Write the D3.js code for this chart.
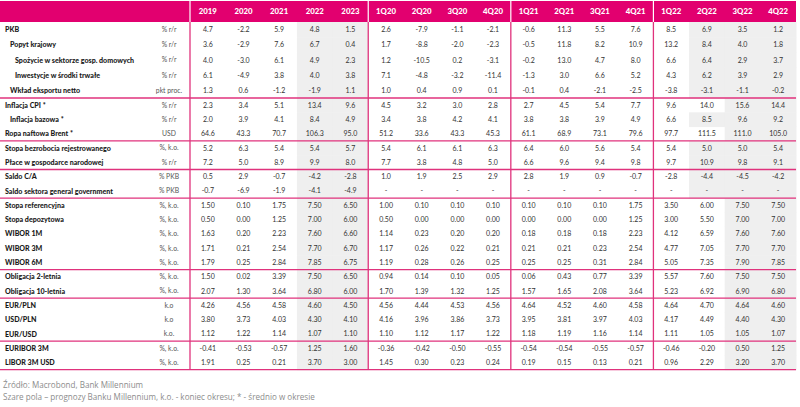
<!DOCTYPE html>
<html><head><meta charset="utf-8">
<script src="https://cdn.jsdelivr.net/npm/d3@7/dist/d3.min.js"></script>
<style>
html,body{margin:0;padding:0;background:#fff;}
svg{display:block;}
</style></head>
<body><svg id="c" width="800" height="407"></svg>
<script>
// ---------- DATA ----------
const columns = ["2019","2020","2021","2022","2023","1Q20","2Q20","3Q20","4Q20","1Q21","2Q21","3Q21","4Q21","1Q22","2Q22","3Q22","4Q22"];
const labels = ["PKB","Popyt krajowy","Spożycie w sektorze gosp. domowych","Inwestycje w środki trwałe","Wkład eksportu netto",
 "Inflacja CPI *","Inflacja bazowa *","Ropa naftowa Brent *",
 "Stopa bezrobocia rejestrowanego","Płace w gospodarce narodowej",
 "Saldo C/A","Saldo sektora general government",
 "Stopa referencyjna","Stopa depozytowa","WIBOR 1M","WIBOR 3M","WIBOR 6M",
 "Obligacja 2-letnia","Obligacja 10-letnia",
 "EUR/PLN","USD/PLN","EUR/USD",
 "EURIBOR 3M","LIBOR 3M USD"];
const units = ["% r/r","% r/r","% r/r","% r/r","pkt proc.","% r/r","% r/r","USD","%, k.o.","% r/r","% PKB","% PKB",
 "%, k.o.","%, k.o.","%, k.o.","%, k.o.","%, k.o.","%, k.o.","%, k.o.","k.o","k.o","k.o.","%, k.o.","%, k.o."];
const indent = [0,1,2,2,1,0,1,0,0,0,0,0,0,0,0,0,0,0,0,0,0,0,0,0];
const groupSizes = [5,3,2,2,5,2,3,2];
const decimals = [1,1,1,1,1,1,1,1,1,1,1,1,2,2,2,2,2,2,2,2,2,2,2,2];
// first quarterly column shaded as forecast (index into columns)
const forecastFrom = [14,14,14,14,14,15,14,15,14,14,14,14,15,15,15,15,15,15,15,15,15,15,15,15];

const pkb        = [4.7,-2.2,5.9,4.8,1.5,2.6,-7.9,-1.1,-2.1,-0.6,11.3,5.5,7.6,8.5,6.9,3.5,1.2];
const popyt      = [3.6,-2.9,7.6,6.7,0.4,1.7,-8.8,-2.0,-2.3,-0.5,11.8,8.2,10.9,13.2,8.4,4.0,1.8];
const spozycie   = [4.0,-3.0,6.1,4.9,2.3,1.2,-10.5,0.2,-3.1,-0.2,13.0,4.7,8.0,6.6,6.4,2.9,3.7];
const inwestycje = [6.1,-4.9,3.8,4.0,3.8,7.1,-4.8,-3.2,-11.4,-1.3,3.0,6.6,5.2,4.3,6.2,3.9,2.9];
const eksport    = [1.3,0.6,-1.2,-1.9,1.1,1.0,0.4,0.9,0.1,-0.1,0.4,-2.1,-2.5,-3.8,-3.1,-1.1,-0.2];
const cpi        = [2.3,3.4,5.1,13.4,9.6,4.5,3.2,3.0,2.8,2.7,4.5,5.4,7.7,9.6,14.0,15.6,14.4];
const bazowa     = [2.0,3.9,4.1,8.4,4.9,3.4,3.8,4.2,4.1,3.8,3.8,3.9,4.9,6.6,8.5,9.6,9.2];
const brent      = [64.6,43.3,70.7,106.3,95.0,51.2,33.6,43.3,45.3,61.1,68.9,73.1,79.6,97.7,111.5,111.0,105.0];
const bezrobocie = [5.2,6.3,5.4,5.4,5.7,5.4,6.1,6.1,6.3,6.4,6.0,5.6,5.4,5.4,5.0,5.0,5.4];
const place      = [7.2,5.0,8.9,9.9,8.0,7.7,3.8,4.8,5.0,6.6,9.6,9.4,9.8,9.7,10.9,9.8,9.1];
const saldoCA    = [0.5,2.9,-0.7,-4.2,-2.8,1.0,1.9,2.5,2.9,2.8,1.9,0.9,-0.7,-2.8,-4.4,-4.5,-4.2];
const saldoGG    = [-0.7,-6.9,-1.9,-4.1,-4.9,null,null,null,null,null,null,null,null,null,null,null,null];
const stopaRef   = [1.50,0.10,1.75,7.50,6.50,1.00,0.10,0.10,0.10,0.10,0.10,0.10,1.75,3.50,6.00,7.50,7.50];
const stopaDep   = [0.50,0.00,1.25,7.00,6.00,0.50,0.00,0.00,0.00,0.00,0.00,0.00,1.25,3.00,5.50,7.00,7.00];
const wibor1m    = [1.63,0.20,2.23,7.60,6.60,1.14,0.23,0.20,0.20,0.18,0.18,0.18,2.23,4.12,6.59,7.60,7.60];
const wibor3m    = [1.71,0.21,2.54,7.70,6.70,1.17,0.26,0.22,0.21,0.21,0.21,0.23,2.54,4.77,7.05,7.70,7.70];
const wibor6m    = [1.79,0.25,2.84,7.85,6.75,1.19,0.28,0.26,0.25,0.25,0.25,0.31,2.84,5.05,7.35,7.90,7.85];
const obl2       = [1.50,0.02,3.39,7.50,6.50,0.94,0.14,0.10,0.05,0.06,0.43,0.77,3.39,5.57,7.60,7.50,7.50];
const obl10      = [2.07,1.30,3.64,6.80,6.00,1.70,1.39,1.32,1.25,1.57,1.65,2.08,3.64,5.23,6.92,6.90,6.80];
const eurpln     = [4.26,4.56,4.58,4.60,4.50,4.56,4.44,4.53,4.56,4.64,4.52,4.60,4.58,4.64,4.70,4.64,4.60];
const usdpln     = [3.80,3.73,4.03,4.30,4.10,4.16,3.96,3.86,3.73,3.95,3.81,3.97,4.03,4.17,4.49,4.40,4.30];
const eurusd     = [1.12,1.22,1.14,1.07,1.10,1.10,1.12,1.17,1.22,1.18,1.19,1.16,1.14,1.11,1.05,1.05,1.07];
const euribor    = [-0.41,-0.53,-0.57,1.25,1.60,-0.36,-0.42,-0.50,-0.55,-0.54,-0.54,-0.55,-0.57,-0.46,-0.20,0.50,1.25];
const libor      = [1.91,0.25,0.21,3.70,3.00,1.45,0.30,0.23,0.24,0.19,0.15,0.13,0.21,0.96,2.29,3.20,3.70];

const series = [pkb,popyt,spozycie,inwestycje,eksport,cpi,bazowa,brent,bezrobocie,place,saldoCA,saldoGG,
 stopaRef,stopaDep,wibor1m,wibor3m,wibor6m,obl2,obl10,eurpln,usdpln,eurusd,euribor,libor];
const footer = ["Źródło: Macrobond, Bank Millennium",
 "Szare pola – prognozy Banku Millennium, k.o. - koniec okresu; * - średnio w okresie"];

// ---------- LAYOUT ----------
const pink = "#e2006f", linePink = "#e0327c", grey = "#efefef";
const fontLbl = "Lato, 'Open Sans', sans-serif";
const headTop = 1, headBot = 22;
const x = d3.scaleBand().domain(columns).range([190, 796]);
const colGroups = [0,5,9,13];

// row layout
const rowY = [], rowTop = [], rowBot = [], sepY = [];
let yy = headBot, ri = 0;
groupSizes.forEach((n, gi) => {
  const h = gi === 0 ? 15.2 : 14.3;
  for (let k = 0; k < n; k++) {
    rowTop[ri] = yy; rowY[ri] = yy + h/2; yy += h; rowBot[ri] = yy; ri++;
  }
  sepY.push(yy);
});
const tableBot = yy;

const svg = d3.select("#c");
svg.append("rect").attr("width", 800).attr("height", 407).attr("fill", "#fff");

// forecast shading
series.forEach((vals, r) => {
  columns.forEach((c, ci) => {
    const shaded = (ci === 3 || ci === 4) || ci >= forecastFrom[r];
    if (!shaded) return;
    svg.append("rect")
      .attr("x", x(c)).attr("y", rowTop[r]).attr("width", x.bandwidth() + 0.5)
      .attr("height", rowBot[r] - rowTop[r] + 0.5).attr("fill", grey);
  });
});

// header band
svg.append("rect").attr("x", 0).attr("y", headTop).attr("width", 796).attr("height", headBot - headTop).attr("fill", pink);
colGroups.forEach(ci => {
  svg.append("line").attr("x1", x(columns[ci])).attr("x2", x(columns[ci]))
    .attr("y1", headTop).attr("y2", headBot).attr("stroke", "#fff").attr("stroke-width", 1.2);
});
svg.selectAll("text.hd").data(columns).enter().append("text")
  .attr("x", c => x(c) + x.bandwidth()/2).attr("y", (headTop+headBot)/2).attr("dy", "0.36em")
  .attr("text-anchor", "middle").attr("fill", "#fff")
  .style("font-family", fontLbl).style("font-weight", "900").style("font-size", "7.8px")
  .text(c => c);

// labels and units
labels.forEach((l, r) => {
  svg.append("text").attr("x", 5 + indent[r]*5).attr("y", rowY[r]).attr("dy", "0.36em")
    .attr("fill", "#1a1a1a").style("font-family", fontLbl).style("font-weight", "900").style("font-size", "7.1px")
    .text(l);
  svg.append("text").attr("x", 169).attr("y", rowY[r]).attr("dy", "0.36em").attr("text-anchor", "middle")
    .attr("fill", "#555").style("font-family", fontLbl).style("font-size", "6.8px")
    .text(units[r]);
});

// values
series.forEach((vals, r) => {
  svg.selectAll(null).data(vals).enter().append("text")
    .attr("x", (v, i) => x(columns[i]) + x.bandwidth()/2).attr("y", rowY[r]).attr("dy", "0.36em")
    .attr("text-anchor", "middle").attr("fill", "#333")
    .style("font-family", fontLbl).style("font-size", "7px")
    .text(v => v === null ? "-" : v.toFixed(decimals[r]));
});

// horizontal separators
sepY.forEach(y => {
  svg.append("line").attr("x1", 0).attr("x2", 796).attr("y1", y).attr("y2", y)
    .attr("stroke", linePink).attr("stroke-width", 1.3);
});
// vertical separators
colGroups.forEach(ci => {
  svg.append("line").attr("x1", x(columns[ci])).attr("x2", x(columns[ci]))
    .attr("y1", headBot).attr("y2", tableBot).attr("stroke", linePink).attr("stroke-width", 1.3);
});

// footer
footer.forEach((t, i) => {
  svg.append("text").attr("x", 3).attr("y", 385 + i*12).attr("dy", "0.36em")
    .attr("fill", "#8c8c8c").style("font-family", "'Open Sans', sans-serif").style("font-size", "8.1px")
    .text(t);
});
</script></body></html>
